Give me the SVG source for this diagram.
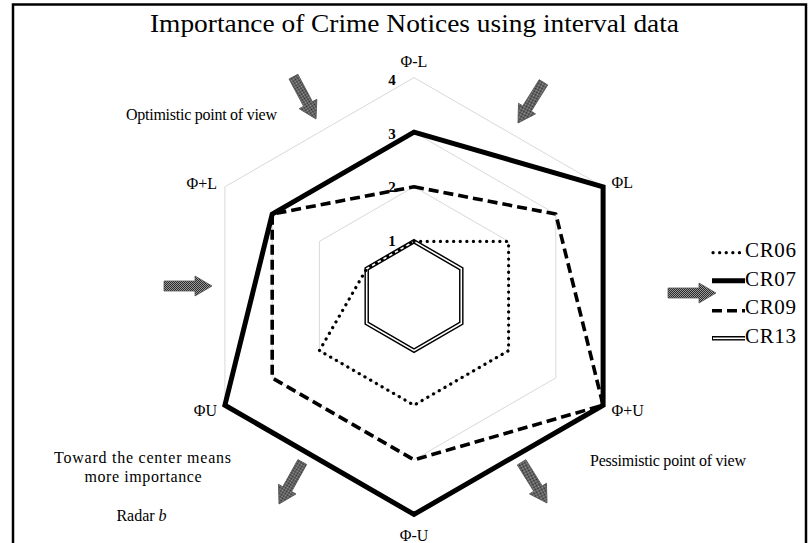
<svg xmlns="http://www.w3.org/2000/svg" xmlns:xlink="http://www.w3.org/1999/xlink" width="811" height="543" viewBox="0 0 811 543">
  <style>
    text { font-family: "Liberation Serif", "Times New Roman", serif; fill: #000; }
    .title { font-size: 26px; }
    .axis { font-size: 16px; }
    .tick { font-size: 15px; font-weight: bold; text-anchor: middle; }
    .note { font-size: 16px; }
    .leg { font-size: 21px; }
    .grid { fill: none; stroke: #d9d9d9; stroke-width: 1; }
    .s06 { fill: none; stroke: #000; stroke-width: 3.2; stroke-dasharray: 0.1 6.5; stroke-linecap: round; stroke-linejoin: round; }
    .s07 { fill: none; stroke: #000; stroke-width: 5; stroke-linejoin: miter; }
    .s09 { fill: none; stroke: #000; stroke-width: 3.6; stroke-dasharray: 10 5; stroke-linejoin: round; }
    .s13o { fill: none; stroke: #000; stroke-width: 4.5; stroke-linejoin: miter; }
    .s13i { fill: none; stroke: #fff; stroke-width: 1.6; stroke-linejoin: miter; }
    .arrow { fill: url(#dither); stroke: #555; stroke-width: 0.8; }
  </style>
  <defs>
    <pattern id="dither" width="2" height="2" patternUnits="userSpaceOnUse">
      <rect width="2" height="2" fill="#9a9a9a"/>
      <rect width="1" height="1" fill="#2a2a2a"/>
      <rect x="1" y="1" width="1" height="1" fill="#2a2a2a"/>
    </pattern>
    <!-- block arrow pointing along +x, tip at origin -->
    <path id="arrowShape" d="M-48,-5 L-17,-5 L-17,-10 L0,0 L-17,10 L-17,5 L-48,5 Z"/>
  </defs>

  <rect width="811" height="543" fill="#fff"/>
  <!-- frame -->
  <rect x="13" y="4.5" width="793" height="570" fill="none" stroke="#000" stroke-width="2.5"/>

  <text class="title" x="414.5" y="32" text-anchor="middle" textLength="529" lengthAdjust="spacingAndGlyphs">Importance of Crime Notices using interval data</text>

  <!-- grid rings for values 1..4 (centre 414,296; 54.6 px per unit) -->
  <g id="grid">
    <polygon class="grid" points="414,241.4 461.3,268.7 461.3,323.3 414,350.6 366.7,323.3 366.7,268.7"/>
    <polygon class="grid" points="414,186.8 508.6,241.4 508.6,350.6 414,405.2 319.4,350.6 319.4,241.4"/>
    <polygon class="grid" points="414,132.2 555.8,214.1 555.8,377.9 414,459.8 272.2,377.9 272.2,214.1"/>
    <polygon class="grid" points="414,77.6 603.1,186.8 603.1,405.2 414,514.4 224.9,405.2 224.9,186.8"/>
  </g>

  <!-- data series -->
  <g id="series">
    <g id="CR13">
      <polygon class="s13o" points="414,241.4 461.3,268.7 461.3,323.3 414,350.6 366.7,323.3 366.7,268.7"/>
      <polygon class="s13i" points="414,241.4 461.3,268.7 461.3,323.3 414,350.6 366.7,323.3 366.7,268.7"/>
    </g>
    <polygon id="CR06" class="s06" points="414,241.4 508.6,241.4 508.6,350.6 414,405.2 319.4,350.6 366.7,268.7"/>
    <polygon id="CR09" class="s09" points="414,186.8 555.8,214.1 603.1,405.2 414,459.8 272.2,377.9 272.2,214.1"/>
    <polygon id="CR07" class="s07" points="414,132.2 603.1,186.8 603.1,405.2 414,514.4 224.9,405.2 272.2,214.1"/>
  </g>

  <!-- scale values -->
  <g id="ticks">
    <text class="tick" x="392" y="85">4</text>
    <text class="tick" x="392" y="139">3</text>
    <text class="tick" x="392" y="192">2</text>
    <text class="tick" x="392" y="246">1</text>
  </g>

  <!-- axis labels -->
  <g id="axes">
    <text class="axis" x="414" y="67" text-anchor="middle">Φ-L</text>
    <text class="axis" x="611.5" y="188">ΦL</text>
    <text class="axis" x="611.5" y="416">Φ+U</text>
    <text class="axis" x="414" y="541" text-anchor="middle">Φ-U</text>
    <text class="axis" x="217" y="416" text-anchor="end">ΦU</text>
    <text class="axis" x="217" y="189" text-anchor="end">Φ+L</text>
  </g>

  <!-- notes -->
  <g id="notes">
    <text class="note" x="201.5" y="120" text-anchor="middle" textLength="151">Optimistic point of view</text>
    <text class="note" x="668" y="466" text-anchor="middle" textLength="156">Pessimistic point of view</text>
    <text class="note" x="142.5" y="463" text-anchor="middle" textLength="177">Toward the center means</text>
    <text class="note" x="143" y="482" text-anchor="middle" textLength="117">more importance</text>
    <text class="note" x="141.5" y="521" text-anchor="middle">Radar <tspan font-style="italic">b</tspan></text>
  </g>

  <!-- direction arrows -->
  <g id="arrows">
    <use xlink:href="#arrowShape" class="arrow" transform="translate(316,119) rotate(62)"/>
    <use xlink:href="#arrowShape" class="arrow" transform="translate(518,123) rotate(122)"/>
    <use xlink:href="#arrowShape" class="arrow" transform="translate(212,286)"/>
    <use xlink:href="#arrowShape" class="arrow" transform="translate(716,293)"/>
    <use xlink:href="#arrowShape" class="arrow" transform="translate(279,504) rotate(119)"/>
    <use xlink:href="#arrowShape" class="arrow" transform="translate(547,503) rotate(58)"/>
  </g>

  <!-- legend -->
  <g id="legend">
    <line class="s06" x1="713" y1="252.7" x2="744" y2="252.7" fill="none"/>
    <text class="leg" x="745" y="257" textLength="51">CR06</text>
    <line class="s07" x1="712" y1="280.7" x2="745" y2="280.7"/>
    <text class="leg" x="745" y="285.5" textLength="51">CR07</text>
    <line class="s09" x1="712" y1="310.7" x2="745" y2="310.7" stroke-dasharray="9 4"/>
    <text class="leg" x="745" y="314" textLength="51">CR09</text>
    <line class="s13o" x1="712" y1="338.3" x2="745" y2="338.3"/>
    <line class="s13i" x1="713" y1="338.3" x2="745" y2="338.3"/>
    <text class="leg" x="745" y="342.5" textLength="51">CR13</text>
  </g>
</svg>
